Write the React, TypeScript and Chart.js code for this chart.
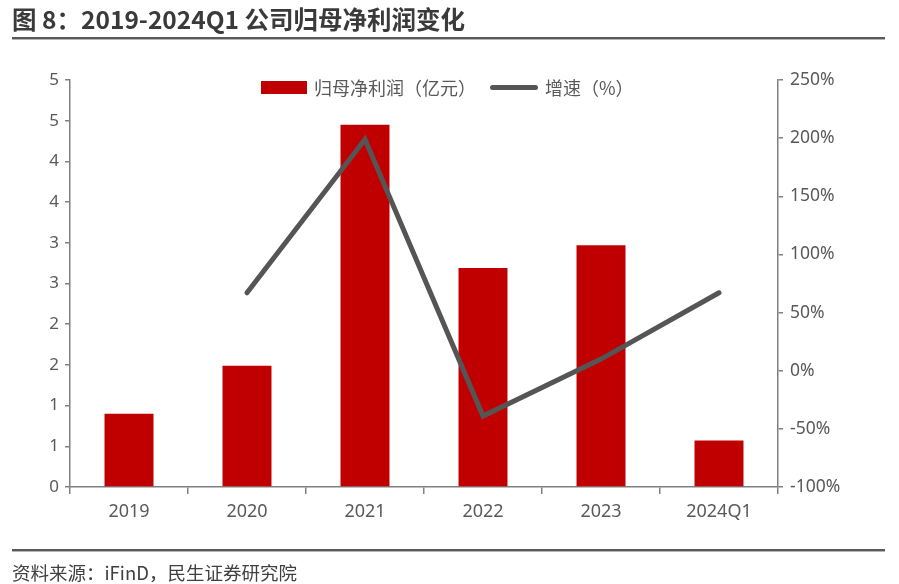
import React, { useEffect, useRef } from "react";
import { Chart, registerables } from "chart.js";

Chart.register(...registerables);

const categories = ["2019", "2020", "2021", "2022", "2023", "2024Q1"];
const profitValues = [0.9, 1.49, 4.45, 2.69, 2.97, 0.57];
const growthValues: (number | null)[] = [null, 67, 199, -39, 10, 67];
const profitLabel = "归母净利润（亿元）";
const growthLabel = "增速（%）";
const titleText = "图 8：2019-2024Q1 公司归母净利润变化";
const sourceText = "资料来源：iFinD，民生证券研究院";

const FONT = "'Noto Sans', 'Noto Sans CJK SC', sans-serif";
const CJK = "'Noto Sans CJK SC', 'Noto Sans', sans-serif";
const AXIS = "#808080";
const TXT = "#595959";

export default function App() {
  const ref = useRef<HTMLCanvasElement | null>(null);

  useEffect(() => {
    if (!ref.current) return;
    const chart = new Chart(ref.current, {
      type: "bar",
      data: {
        labels: categories,
        datasets: [
          {
            type: "line",
            label: growthLabel,
            data: growthValues,
            yAxisID: "y1",
            borderColor: "#555555",
            backgroundColor: "#555555",
            borderWidth: 5,
            pointRadius: 0,
            tension: 0,
            borderCapStyle: "round",
            order: 0,
          } as any,
          {
            type: "bar",
            label: profitLabel,
            data: profitValues,
            yAxisID: "y",
            backgroundColor: "#C00000",
            categoryPercentage: 1,
            barPercentage: 0.415,
            order: 1,
          },
        ],
      },
      options: {
        responsive: false,
        animation: false,
        layout: { padding: { left: 0, right: 0, top: 80, bottom: 0 } },
        plugins: { legend: { display: false }, tooltip: { enabled: false } },
        scales: {
          x: {
            offset: true,
            grid: {
              offset: true,
              drawOnChartArea: false,
              drawTicks: true,
              tickLength: 7,
              color: AXIS,
              lineWidth: 1.5,
            },
            border: { display: true, color: AXIS, width: 1.5 },
            ticks: { color: TXT, font: { family: FONT, size: 18 }, padding: 7 },
            afterFit: (s: any) => {
              s.height = 97;
            },
          },
          y: {
            position: "left",
            min: 0,
            max: 5,
            ticks: {
              stepSize: 0.5,
              color: TXT,
              font: { family: FONT, size: 17 },
              padding: 6,
              callback: (v: any) => String(Math.round(Number(v))),
            },
            grid: {
              drawOnChartArea: false,
              drawTicks: true,
              tickLength: 5,
              color: AXIS,
              lineWidth: 1.5,
            },
            border: { display: true, color: AXIS, width: 1.5 },
            afterFit: (s: any) => {
              s.width = 70;
            },
          },
          y1: {
            position: "right",
            min: -100,
            max: 250,
            ticks: {
              stepSize: 50,
              color: TXT,
              font: { family: FONT, size: 17.5 },
              padding: 7,
              callback: (v: any) => `${v}%`,
            },
            grid: {
              drawOnChartArea: false,
              drawTicks: true,
              tickLength: 5,
              color: AXIS,
              lineWidth: 1.5,
            },
            border: { display: true, color: AXIS, width: 1.5 },
            afterFit: (s: any) => {
              s.width = 121;
            },
          },
        },
      },
    });
    return () => chart.destroy();
  }, []);

  return (
    <div
      style={{
        position: "absolute",
        left: 0,
        top: 0,
        width: 899,
        height: 584,
        background: "#fff",
        overflow: "hidden",
      }}
    >
      <canvas
        ref={ref}
        width={899}
        height={584}
        style={{ position: "absolute", left: 0, top: 0, width: 899, height: 584 }}
      />
      <div
        style={{
          position: "absolute",
          left: 12,
          top: 3,
          fontFamily: CJK,
          fontWeight: 700,
          fontSize: 24.5,
          lineHeight: "31px",
          color: "#3a3a3a",
          whiteSpace: "nowrap",
        }}
      >
        {titleText}
      </div>
      <div
        style={{
          position: "absolute",
          left: 12,
          top: 37,
          width: 873,
          height: 0,
          borderTop: "2px solid #5a5a5a",
          borderBottom: "1px solid #b5b5b5",
        }}
      />
      <div
        style={{
          position: "absolute",
          left: 12,
          top: 549,
          width: 873,
          height: 0,
          borderTop: "2px solid #5a5a5a",
          borderBottom: "1px solid #b5b5b5",
        }}
      />
      <div
        style={{
          position: "absolute",
          left: 12,
          top: 559,
          fontFamily: CJK,
          fontSize: 18.5,
          lineHeight: "26px",
          color: "#404040",
          whiteSpace: "nowrap",
        }}
      >
        {sourceText}
      </div>
      <div
        style={{
          position: "absolute",
          left: 261,
          top: 73,
          height: 28,
          display: "flex",
          alignItems: "center",
          fontFamily: CJK,
          fontSize: 18,
          color: TXT,
          whiteSpace: "nowrap",
        }}
      >
        <span style={{ display: "inline-block", width: 46, height: 13, background: "#C00000", marginRight: 7 }} />
        <span>{profitLabel}</span>
        <span
          style={{
            display: "inline-block",
            width: 48,
            height: 5,
            borderRadius: 3,
            background: "#555555",
            marginLeft: 14,
            marginRight: 7,
          }}
        />
        <span>{growthLabel}</span>
      </div>
    </div>
  );
}
